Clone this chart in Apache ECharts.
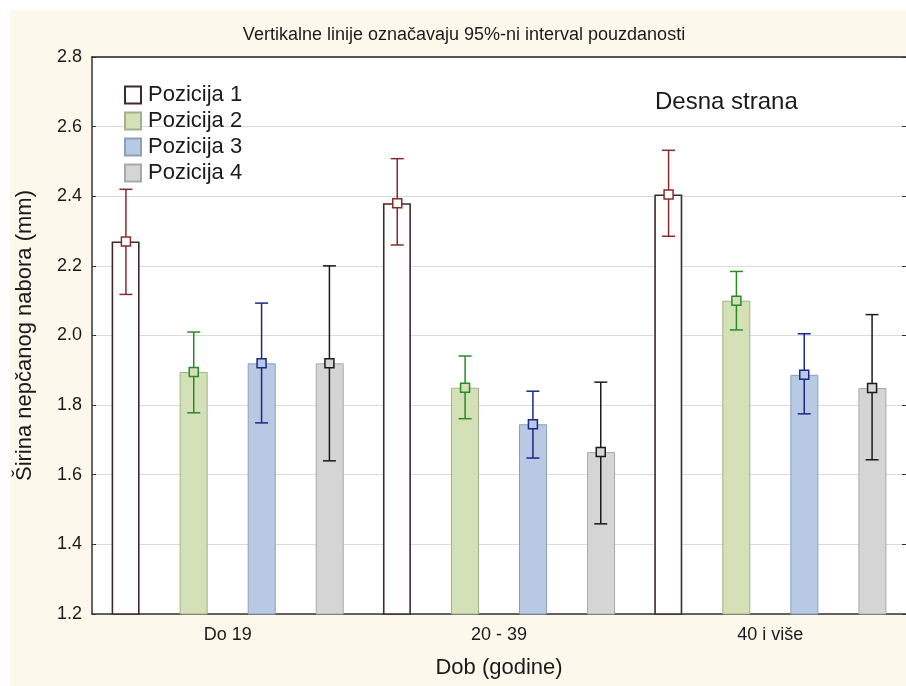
<!DOCTYPE html>
<html>
<head>
<meta charset="utf-8">
<script src="https://cdn.jsdelivr.net/npm/echarts@6/dist/echarts.min.js"></script>
<style>html,body{margin:0;padding:0;background:#fff}#c{width:906px;height:686px}</style>
</head>
<body>
<div id="c"></div>
<script>
const categories = ['Do 19', '20 - 39', '40 i više'];
const seriesNames = ['Pozicija 1', 'Pozicija 2', 'Pozicija 3', 'Pozicija 4'];
const yTicks = [1.2, 1.4, 1.6, 1.8, 2.0, 2.2, 2.4, 2.6, 2.8];
// means per series (one per category)
const mean1 = [2.27, 2.38, 2.405];
const mean2 = [1.895, 1.85, 2.10];
const mean3 = [1.92, 1.745, 1.887];
const mean4 = [1.92, 1.665, 1.849];
// 95% CI lower
const low1 = [2.118, 2.26, 2.285];
const low2 = [1.778, 1.761, 2.016];
const low3 = [1.749, 1.648, 1.775];
const low4 = [1.64, 1.459, 1.643];
// 95% CI upper
const high1 = [2.42, 2.508, 2.532];
const high2 = [2.01, 1.941, 2.184];
const high3 = [2.093, 1.84, 2.005];
const high4 = [2.20, 1.866, 2.06];

const means = [mean1, mean2, mean3, mean4];
const lows = [low1, low2, low3, low4];
const highs = [high1, high2, high3, high4];

const fills = ['#ffffff', '#d4e0b6', '#b7c9e3', '#d5d5d5'];
const borders = ['#3d2b2b', '#a3b08c', '#8c9fba', '#a8a8a8'];
const errColors = ['#8a2a2a', '#2a8a2a', '#1c2888', '#1a1a1a'];
const FONT = '"Liberation Sans", Arial, sans-serif';

const chart = echarts.init(document.getElementById('c'), null, {renderer: 'canvas'});

const series = [];
seriesNames.forEach((name, i) => {
  series.push({
    name: name,
    type: 'bar',
    data: means[i],
    barWidth: 28,
    barGap: '143%',
    clip: true,
    itemStyle: {color: fills[i], borderColor: borders[i], borderWidth: i === 0 ? 1.6 : 1},
    emphasis: {disabled: true},
    z: 2
  });
});
seriesNames.forEach((name, i) => {
  const data = categories.map((c, k) => [k, means[i][k], lows[i][k], highs[i][k]]);
  series.push({
    name: name + ' CI',
    type: 'custom',
    data: data,
    z: 5,
    silent: true,
    encode: {x: 0, y: [1, 2, 3]},
    renderItem: function (params, api) {
      const k = api.value(0);
      const pm = api.coord([k, api.value(1)]);
      const pl = api.coord([k, api.value(2)]);
      const ph = api.coord([k, api.value(3)]);
      const band = api.size([1, 0])[0];
      const cx = pm[0] + (i - 1.5) * band * 0.25;
      const cap = 6.5, m = 4.5;
      const st = {stroke: errColors[i], lineWidth: 1.5, fill: null};
      return {
        type: 'group',
        children: [
          {type: 'line', shape: {x1: cx, y1: pl[1], x2: cx, y2: ph[1]}, style: st},
          {type: 'line', shape: {x1: cx - cap, y1: pl[1], x2: cx + cap, y2: pl[1]}, style: st},
          {type: 'line', shape: {x1: cx - cap, y1: ph[1], x2: cx + cap, y2: ph[1]}, style: st},
          {type: 'rect', shape: {x: cx - m, y: pm[1] - m, width: 2 * m, height: 2 * m},
           style: {stroke: errColors[i], lineWidth: 1.5, fill: fills[i]}}
        ]
      };
    }
  });
});

const option = {
  backgroundColor: '#ffffff',
  animation: false,
  textStyle: {fontFamily: FONT},
  graphic: [
    {type: 'rect', left: 10, top: 10, z: -10, silent: true,
     shape: {width: 896, height: 676}, style: {fill: '#fcf8ec'}},
    {type: 'text', x: 464, y: 35, z: 10, silent: true,
     style: {text: 'Vertikalne linije označavaju 95%-ni interval pouzdanosti',
             font: '18px ' + FONT, fill: '#1a1a1a', textAlign: 'center', textVerticalAlign: 'middle'}},
    {type: 'text', x: 655, y: 102, z: 10, silent: true,
     style: {text: 'Desna strana', font: '24px ' + FONT, fill: '#1a1a1a', textVerticalAlign: 'middle'}}
  ],
  legend: {
    data: seriesNames,
    orient: 'vertical',
    left: 119,
    top: 79,
    icon: 'rect',
    itemWidth: 16,
    itemHeight: 17,
    itemGap: 4,
    textStyle: {fontSize: 22, color: '#1a1a1a', fontFamily: FONT, padding: [0, 0, 0, 2]},
    selectedMode: false
  },
  grid: {left: 92, top: 57, right: 0, bottom: 72, show: true, backgroundColor: '#ffffff', borderWidth: 0},
  xAxis: [{
    type: 'category',
    data: categories,
    name: 'Dob (godine)',
    nameLocation: 'middle',
    nameGap: 43,
    nameTextStyle: {fontSize: 22, color: '#1a1a1a', fontFamily: FONT},
    axisLine: {lineStyle: {color: '#333', width: 1.5}},
    axisTick: {inside: true, alignWithLabel: true, length: 4, lineStyle: {color: '#333'}},
    axisLabel: {fontSize: 18, color: '#1a1a1a', margin: 12, fontFamily: FONT},
    splitLine: {show: false}
  }, {
    type: 'category',
    data: categories,
    position: 'top',
    axisLine: {lineStyle: {color: '#222', width: 1.5}},
    axisTick: {inside: true, alignWithLabel: true, length: 4, lineStyle: {color: '#333'}},
    axisLabel: {show: false}
  }],
  yAxis: [{
    type: 'value',
    min: yTicks[0],
    max: yTicks[yTicks.length - 1],
    interval: 0.2,
    name: 'Širina nepčanog nabora (mm)',
    nameLocation: 'middle',
    nameGap: 56,
    nameTextStyle: {fontSize: 22, color: '#1a1a1a', fontFamily: FONT},
    axisLine: {show: true, lineStyle: {color: '#333', width: 1.5}},
    axisTick: {show: true, inside: true, length: 4, lineStyle: {color: '#333'}},
    axisLabel: {fontSize: 18, color: '#1a1a1a', margin: 10, fontFamily: FONT,
                formatter: v => v.toFixed(1)},
    splitLine: {show: true, lineStyle: {color: '#dadada', width: 1}}
  }, {
    type: 'value',
    min: yTicks[0],
    max: yTicks[yTicks.length - 1],
    interval: 0.2,
    position: 'right',
    axisLine: {show: false},
    axisTick: {show: true, inside: true, length: 4, lineStyle: {color: '#333'}},
    axisLabel: {show: false},
    splitLine: {show: false}
  }],
  series: series
};
chart.setOption(option);
</script>
</body>
</html>
